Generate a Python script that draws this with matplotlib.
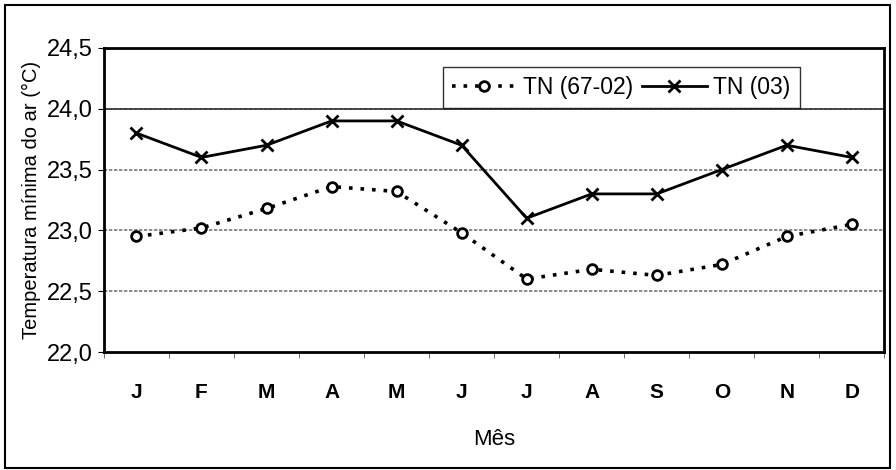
import matplotlib.pyplot as plt
from matplotlib.patches import Rectangle

meses = ['J', 'F', 'M', 'A', 'M', 'J', 'J', 'A', 'S', 'O', 'N', 'D']
tn_6702 = [22.95, 23.02, 23.18, 23.36, 23.32, 22.98, 22.60, 22.68, 22.63, 22.72, 22.95, 23.05]
tn_03 = [23.8, 23.6, 23.7, 23.9, 23.9, 23.7, 23.1, 23.3, 23.3, 23.5, 23.7, 23.6]
y_ticks = [22.0, 22.5, 23.0, 23.5, 24.0, 24.5]

plt.rcParams['font.family'] = ['Liberation Sans', 'DejaVu Sans']

fig = plt.figure(figsize=(8.96, 4.70), dpi=100)
ax = fig.add_axes([0.116, 0.251, 0.871, 0.647])

x = list(range(len(meses)))
ax.plot(x, tn_6702, color='black', linestyle=(0, (1, 2.2)), linewidth=2.6,
        marker='o', markersize=7, markerfacecolor='white', markeredgewidth=2,
        label='TN (67-02)')
ax.plot(x, tn_03, color='black', linestyle='-', linewidth=2,
        marker='x', markersize=9, markeredgewidth=2, label='TN (03)')

ax.set_xlim(-0.5, 11.5)
ax.set_ylim(22.0, 24.5)
ax.set_yticks(y_ticks)
ax.set_yticklabels([f'{v:.1f}'.replace('.', ',') for v in y_ticks], fontsize=17)
ax.set_xticks(x)
ax.set_xticklabels(meses, fontsize=15, fontweight='bold')
ax.tick_params(axis='x', length=0, pad=22)
ax.set_xticks([i + 0.5 for i in range(-1, 12)], minor=True)
ax.tick_params(axis='x', which='minor', length=4, direction='out', color='#555555')
ax.tick_params(axis='y', length=4, direction='out', pad=4)

for v in y_ticks[1:-1]:
    ax.axhline(v, color='#777777', linewidth=1.2, linestyle=(0, (2, 1)), zorder=0)
ax.axhline(24.0, color='#333333', linewidth=1.2, zorder=0)

for s in ax.spines.values():
    s.set_linewidth(2)

ax.set_xlabel('Mês', fontsize=16, labelpad=20)
ax.set_ylabel('Temperatura mínima do ar (°C)', fontsize=14.5, labelpad=4)

ax.legend(loc='upper center', bbox_to_anchor=(0.663, 0.9375), ncol=2, frameon=True,
          fancybox=False, edgecolor='black', fontsize=16.5, handlelength=2.8,
          columnspacing=0.4, handletextpad=0.3, borderpad=0.4, borderaxespad=0)

fig.patches.append(Rectangle((5 / 896, 2 / 470), 885 / 896, 463 / 470,
                             transform=fig.transFigure, fill=False,
                             edgecolor='black', linewidth=1.5))

plt.savefig('out.png', dpi=100)
